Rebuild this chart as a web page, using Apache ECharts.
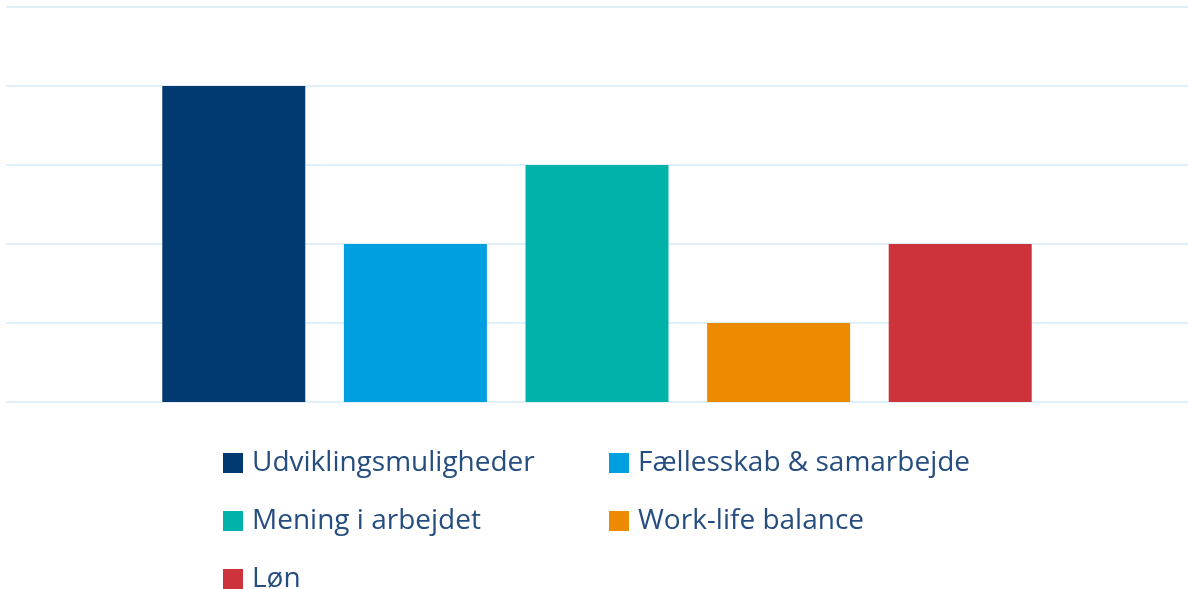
<!DOCTYPE html>
<html>
<head>
<meta charset="utf-8">
<script src="https://cdn.jsdelivr.net/npm/echarts@6/dist/echarts.min.js"></script>
<style>
html,body{margin:0;padding:0;background:#fff;}
#c{width:1188px;height:589px;}
</style>
</head>
<body>
<div id="c"></div>
<script>
const categories = ['Total'];
const seriesNames = ['Udviklingsmuligheder', 'Fællesskab & samarbejde', 'Mening i arbejdet', 'Work-life balance', 'Løn'];
const seriesValues = [4, 2, 3, 1, 2];
const seriesColors = ['#003a70', '#009fe0', '#00b2a9', '#ec8b00', '#cc333a'];

const chart = echarts.init(document.getElementById('c'));
const textColor = '#264d80';
const legendText = {color: textColor, fontFamily: 'Open Sans', fontSize: 28, lineHeight: 30, padding: [0,0,0,4]};
chart.setOption({
  animation: false,
  grid: {left: 6, right: 0, top: 7, bottom: 187, containLabel: false},
  xAxis: {type: 'category', data: categories, show: false},
  yAxis: {type: 'value', min: 0, max: 5, interval: 1,
    axisLabel: {show: false}, axisLine: {show: false}, axisTick: {show: false},
    splitLine: {lineStyle: {color: '#dff0f9', width: 2}}},
  legend: [
    {orient: 'vertical', left: 218, top: 443, height: 160, icon: 'rect', itemWidth: 20, itemHeight: 20, itemGap: 28,
     data: [seriesNames[0], seriesNames[2], seriesNames[4]], textStyle: legendText},
    {orient: 'vertical', left: 604, top: 443, height: 160, icon: 'rect', itemWidth: 20, itemHeight: 20, itemGap: 28,
     data: [seriesNames[1], seriesNames[3]], textStyle: legendText}
  ],
  series: seriesNames.map((n, i) => ({
    name: n, type: 'bar', data: [seriesValues[i]], barWidth: 143, barGap: '27%',
    itemStyle: {color: seriesColors[i]}
  }))
});
</script>
</body>
</html>
